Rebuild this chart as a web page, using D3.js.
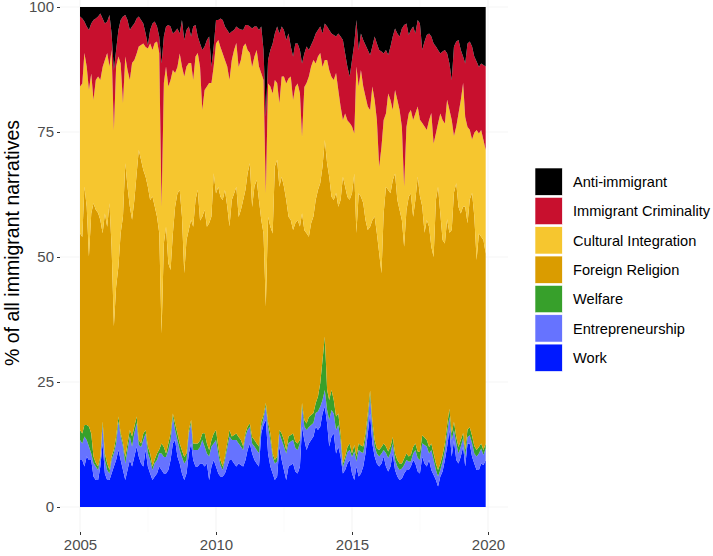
<!DOCTYPE html>
<html>
<head>
<meta charset="utf-8">
<script src="https://d3js.org/d3.v7.min.js"></script>
<style>
  body { margin: 0; background: #fff; }
  svg { font-family: "Liberation Sans", Arial, Helvetica, sans-serif; display: block; }
</style>
</head>
<body>
<div class="Chart"></div>
<script>
// monthly shares (%), Jan 2005 .. Dec 2019, one row per year
const work = [
  9.4, 9.4, 8.1, 10.1, 9.4, 9.4, 6.1, 5.4, 5.4, 8.1, 12.7, 6.7,
  5.4, 5.4, 6.7, 8.1, 9.4, 11.4, 9.4, 7.4, 5.4, 7.4, 9.4, 8.1,
  10.1, 12.1, 10.1, 8.7, 8.1, 11.4, 8.1, 6.7, 5.4, 6.1, 6.7, 8.1,
  7.4, 6.7, 6.7, 7.4, 9.4, 12.7, 13.4, 10.1, 8.7, 6.7, 5.4, 6.7,
  10.7, 12.7, 9.4, 8.1, 8.1, 8.7, 8.7, 8.1, 8.7, 5.4, 8.1, 9.4,
  8.1, 6.7, 6.1, 6.1, 6.7, 8.1, 9.4, 9.4, 8.7, 8.1, 8.7, 8.4,
  8.1, 9.4, 11.4, 12.7, 10.7, 9.4, 8.7, 8.1, 14.7, 16.4, 17.4, 10.7,
  8.1, 6.7, 5.4, 6.1, 12.1, 9.4, 7.4, 5.4, 8.1, 8.4, 8.7, 7.1,
  6.7, 8.1, 16.1, 13.4, 11.4, 12.7, 13.4, 14.1, 16.1, 15.4, 16.1, 18.7,
  20.1, 16.7, 12.1, 14.1, 14.7, 10.7, 12.1, 10.1, 6.7, 7.4, 8.7, 9.4,
  6.7, 5.4, 8.1, 6.1, 6.7, 8.1, 10.7, 14.7, 18.7, 12.7, 10.1, 8.7,
  8.1, 8.7, 10.1, 8.1, 7.1, 8.1, 10.7, 7.4, 6.1, 5.4, 5.7, 6.7,
  7.4, 7.4, 8.1, 9.4, 8.7, 7.1, 6.7, 10.1, 8.7, 8.1, 9.4, 7.4,
  6.4, 5.4, 4.1, 6.1, 7.1, 9.4, 12.1, 15.4, 10.1, 13.4, 9.4, 8.7,
  10.1, 12.1, 8.1, 12.7, 12.7, 10.1, 8.7, 7.4, 7.4, 8.7, 8.4, 9.4
]
const entrepreneurship = [
  4.0, 3.3, 6.0, 3.3, 2.7, 1.3, 2.7, 2.7, 2.0, 1.3, 3.7, 2.7,
  2.0, 1.3, 2.7, 2.7, 3.3, 5.7, 4.7, 4.7, 3.3, 4.0, 4.7, 4.0,
  4.7, 4.7, 2.3, 3.3, 5.3, 3.3, 2.7, 2.7, 2.0, 2.7, 2.7, 2.7,
  3.3, 3.3, 3.3, 4.0, 4.0, 5.3, 2.0, 3.3, 2.7, 3.3, 3.3, 2.7,
  4.0, 4.0, 2.0, 3.3, 3.3, 3.3, 4.7, 4.0, 2.0, 4.7, 4.0, 3.3,
  5.3, 4.0, 2.3, 1.3, 2.7, 3.7, 4.7, 4.0, 4.7, 5.3, 4.0, 3.7,
  3.3, 4.7, 4.0, 3.3, 2.0, 2.7, 2.7, 2.7, 1.3, 1.3, 2.7, 5.3,
  5.3, 3.3, 3.3, 3.0, 2.7, 4.0, 4.7, 5.3, 4.7, 4.7, 4.7, 4.7,
  4.7, 4.7, 4.0, 2.7, 4.0, 3.3, 3.0, 2.7, 2.7, 3.7, 4.0, 2.7,
  3.3, 2.7, 5.3, 5.3, 4.0, 4.7, 4.3, 3.3, 1.3, 2.0, 2.3, 2.0,
  3.3, 5.7, 1.0, 5.3, 4.3, 2.7, 2.7, 2.7, 3.3, 3.3, 2.0, 2.0,
  2.0, 2.0, 1.3, 2.7, 2.7, 2.7, 2.0, 2.0, 2.0, 2.0, 2.0, 1.7,
  2.0, 1.7, 1.0, 1.3, 2.7, 2.7, 2.7, 2.7, 3.7, 4.0, 1.3, 4.0,
  3.0, 2.0, 2.0, 1.3, 2.0, 2.0, 2.7, 2.7, 3.3, 2.0, 3.3, 2.0,
  2.0, 1.7, 2.0, 1.3, 1.7, 2.7, 2.0, 2.7, 3.3, 3.0, 2.0, 2.3
]
const welfare = [
  2.0, 2.0, 2.3, 3.0, 4.0, 4.0, 1.3, 0.7, 0.7, 0.7, 0.7, 1.3,
  1.3, 0.7, 0.7, 0.7, 1.3, 1.0, 0.7, 0.7, 1.3, 1.3, 1.3, 2.0,
  1.3, 1.3, 1.0, 0.7, 1.3, 0.7, 1.3, 1.3, 0.7, 0.7, 1.3, 0.7,
  2.0, 2.0, 0.7, 1.3, 1.3, 0.7, 1.3, 1.3, 1.3, 1.3, 1.3, 1.3,
  0.7, 0.7, 1.3, 1.3, 1.3, 1.3, 1.3, 2.7, 2.0, 1.3, 1.3, 2.0,
  2.0, 1.3, 1.0, 0.7, 0.7, 1.0, 1.3, 0.7, 1.0, 1.3, 1.3, 1.3,
  0.7, 0.7, 0.7, 0.7, 1.3, 1.3, 1.3, 1.3, 1.0, 0.7, 0.7, 1.0,
  1.3, 0.7, 0.7, 1.0, 0.7, 1.3, 1.3, 0.7, 1.3, 1.3, 1.3, 1.3,
  1.3, 0.7, 0.7, 1.3, 1.3, 2.0, 2.0, 2.0, 2.0, 3.0, 4.7, 8.0,
  10.7, 4.0, 4.0, 4.0, 2.7, 2.7, 2.3, 1.3, 0.7, 0.7, 1.0, 1.3,
  0.7, 1.3, 1.0, 1.3, 1.3, 1.3, 1.3, 1.3, 1.3, 1.3, 1.3, 1.0,
  1.3, 1.3, 1.3, 1.3, 1.3, 1.3, 1.3, 1.3, 1.3, 1.3, 1.0, 1.3,
  1.3, 1.0, 1.3, 1.3, 1.3, 1.3, 1.6, 1.6, 1.5, 1.3, 1.3, 1.3,
  1.3, 1.3, 1.3, 1.3, 1.3, 1.3, 1.6, 1.6, 1.3, 1.7, 1.3, 1.3,
  1.3, 1.0, 1.3, 1.5, 1.6, 1.5, 1.5, 1.3, 1.3, 1.0, 1.0, 1.0
]
const foreignReligion = [
  39.3, 39.3, 47.7, 43.7, 34.0, 44.0, 50.7, 50.7, 50.7, 47.3, 37.7, 48.0,
  47.3, 53.3, 42.0, 24.7, 30.0, 30.0, 40.0, 45.3, 58.7, 51.3, 44.7, 43.3,
  45.3, 48.7, 58.0, 56.7, 52.7, 50.7, 52.0, 50.7, 54.0, 50.7, 47.3, 43.3,
  22.0, 40.7, 45.3, 36.0, 32.7, 36.0, 43.3, 48.0, 50.7, 46.7, 36.7, 42.7,
  40.0, 40.0, 43.3, 48.7, 50.7, 44.0, 43.3, 44.7, 43.3, 45.3, 44.7, 52.0,
  47.3, 52.0, 52.7, 53.3, 53.3, 47.3, 40.7, 47.3, 48.3, 49.3, 44.0, 46.0,
  49.3, 48.7, 50.7, 52.0, 46.0, 50.7, 52.7, 49.3, 40.3, 36.3, 19.3, 41.0,
  41.3, 44.0, 58.7, 59.3, 48.7, 51.3, 50.7, 50.0, 44.0, 43.0, 40.7, 43.7,
  44.7, 42.7, 38.0, 38.0, 38.0, 36.0, 38.3, 39.3, 40.7, 41.3, 40.0, 38.7,
  39.3, 45.3, 44.7, 38.7, 40.0, 44.7, 41.3, 46.7, 57.3, 54.0, 50.0, 48.7,
  52.0, 54.3, 44.7, 50.0, 49.7, 48.7, 42.7, 36.7, 32.7, 40.0, 44.7, 43.0,
  39.3, 34.7, 46.0, 52.0, 52.3, 50.7, 51.3, 56.0, 52.0, 50.7, 48.7, 42.3,
  48.7, 52.0, 52.3, 46.0, 48.7, 55.0, 51.3, 46.0, 41.0, 44.0, 44.0, 39.3,
  39.3, 52.7, 56.7, 50.0, 43.0, 40.0, 41.3, 35.3, 40.7, 46.0, 50.7, 48.0,
  45.3, 45.3, 48.7, 41.3, 45.7, 48.7, 46.0, 38.0, 42.7, 41.3, 42.0, 38.0
]
const culturalIntegration = [
  29.3, 30.7, 26.7, 28.0, 33.3, 28.0, 20.7, 26.0, 27.3, 28.0, 33.3, 30.7,
  34.7, 27.3, 39.3, 39.3, 44.0, 42.0, 34.0, 22.7, 21.3, 23.3, 25.3, 31.3,
  28.0, 24.0, 20.7, 23.0, 25.3, 26.0, 27.7, 31.3, 29.3, 32.7, 35.0, 36.0,
  25.3, 32.0, 32.0, 35.3, 38.0, 32.7, 26.7, 25.3, 27.3, 30.0, 39.3, 34.7,
  33.3, 31.3, 29.3, 28.7, 27.3, 30.7, 21.3, 24.0, 28.0, 28.0, 26.7, 21.3,
  30.0, 29.3, 30.0, 29.3, 26.0, 28.0, 29.3, 28.0, 28.7, 28.7, 30.0, 30.0,
  30.7, 29.3, 24.7, 22.0, 28.0, 26.0, 26.0, 26.7, 29.3, 30.7, 22.7, 26.7,
  28.0, 28.0, 17.3, 15.3, 16.7, 20.0, 22.0, 23.3, 27.7, 28.7, 26.0, 27.3,
  27.3, 26.7, 15.3, 28.7, 30.0, 32.0, 31.3, 31.3, 27.3, 26.7, 26.0, 20.0,
  16.0, 20.7, 21.3, 24.0, 24.0, 24.0, 23.3, 18.7, 11.3, 14.7, 15.3, 15.3,
  13.3, 8.0, 33.3, 21.3, 25.3, 23.3, 24.7, 24.7, 23.3, 26.7, 23.3, 22.7,
  17.3, 25.3, 18.7, 14.7, 19.3, 18.7, 14.0, 16.7, 20.0, 20.0, 18.7, 12.0,
  16.7, 16.7, 16.7, 19.3, 17.3, 14.0, 15.3, 16.7, 21.3, 18.0, 21.3, 26.7,
  22.7, 13.3, 12.7, 20.0, 24.0, 24.0, 24.0, 24.7, 22.0, 11.3, 11.3, 18.7,
  22.7, 24.7, 18.0, 19.3, 14.0, 10.7, 16.7, 26.0, 20.0, 21.3, 20.0, 20.7
]
const immigrantCriminality = [
  14.0, 13.0, 6.3, 8.0, 12.0, 10.0, 16.0, 12.3, 12.0, 13.3, 9.7, 7.3,
  6.3, 10.3, 3.3, 12.0, 3.3, 5.3, 8.7, 17.3, 8.3, 10.0, 10.0, 7.3,
  7.3, 7.0, 6.0, 5.0, 4.0, 2.7, 0.7, 2.7, 5.3, 4.3, 3.0, 3.3,
  28.7, 9.3, 8.0, 12.3, 10.7, 7.3, 8.3, 7.7, 4.0, 9.3, 7.3, 7.3,
  7.3, 5.3, 10.7, 6.3, 3.3, 4.7, 12.0, 8.7, 9.3, 9.3, 3.3, 4.0,
  4.7, 4.0, 5.7, 6.7, 6.7, 7.3, 9.3, 5.7, 4.0, 3.3, 7.7, 6.1,
  3.3, 3.7, 5.0, 5.3, 7.7, 6.0, 4.7, 7.3, 9.3, 6.0, 15.3, 4.7,
  7.3, 10.0, 9.3, 11.3, 14.0, 10.0, 9.3, 8.7, 9.0, 6.0, 8.7, 8.7,
  8.0, 8.7, 14.7, 6.7, 7.3, 5.3, 4.3, 4.0, 6.0, 5.3, 5.3, 6.7,
  7.3, 6.7, 8.0, 8.7, 9.0, 7.3, 11.3, 14.0, 16.0, 12.0, 10.7, 9.3,
  13.3, 18.0, 9.3, 7.3, 7.3, 9.3, 10.3, 11.3, 11.0, 8.0, 12.7, 15.3,
  23.3, 19.0, 13.3, 12.7, 7.7, 10.7, 14.7, 12.3, 13.3, 14.7, 19.7, 32.3,
  20.7, 15.7, 16.0, 18.7, 16.0, 17.3, 19.3, 14.7, 17.0, 19.0, 17.3, 15.3,
  20.0, 17.3, 14.7, 12.0, 13.7, 14.7, 9.3, 9.3, 8.0, 18.0, 17.0, 14.7,
  10.0, 5.3, 10.7, 16.7, 17.7, 18.7, 15.3, 13.7, 13.3, 13.3, 15.0, 16.7
]
const antiImmigrant = [
  1.9, 2.3, 2.9, 3.9, 4.6, 3.3, 2.6, 2.3, 1.9, 1.3, 2.3, 3.3,
  2.9, 1.6, 5.3, 12.6, 8.6, 4.6, 2.6, 1.9, 1.6, 2.6, 4.6, 3.9,
  3.3, 2.3, 1.9, 2.6, 3.3, 5.3, 7.6, 4.6, 3.3, 2.9, 3.9, 5.9,
  11.3, 5.9, 3.9, 3.6, 3.9, 5.3, 4.9, 4.3, 5.3, 2.6, 6.6, 4.6,
  3.9, 5.9, 3.9, 3.6, 5.9, 7.3, 8.6, 7.9, 6.6, 5.9, 11.9, 7.9,
  2.6, 2.6, 2.3, 2.6, 3.9, 4.6, 5.3, 4.9, 4.6, 3.9, 4.3, 4.5,
  4.6, 3.6, 3.6, 3.9, 4.3, 3.9, 3.9, 4.6, 3.9, 8.6, 21.9, 10.6,
  8.6, 7.3, 5.3, 3.9, 5.3, 3.9, 4.6, 6.6, 5.3, 7.9, 9.9, 7.3,
  7.3, 8.6, 11.3, 9.3, 7.9, 8.6, 7.6, 6.6, 5.3, 4.6, 3.9, 5.3,
  3.3, 3.9, 4.6, 5.3, 5.6, 5.9, 5.3, 5.9, 6.6, 9.3, 12.0, 13.9,
  10.6, 7.3, 2.6, 8.6, 5.3, 6.6, 7.6, 8.6, 9.6, 7.9, 5.9, 7.3,
  8.6, 8.9, 9.3, 8.6, 9.6, 7.9, 5.9, 4.3, 5.3, 5.9, 4.3, 3.6,
  3.3, 5.6, 4.6, 3.9, 5.3, 2.6, 3.3, 8.6, 6.9, 5.6, 5.3, 5.9,
  7.3, 7.9, 8.6, 9.3, 8.9, 8.6, 9.3, 11.3, 14.6, 7.9, 6.9, 6.6,
  8.6, 9.9, 11.3, 7.3, 6.9, 7.9, 9.9, 10.9, 12.0, 11.3, 11.6, 11.9
]

// bottom to top
const categories = ['Work', 'Entrepreneurship', 'Welfare', 'Foreign Religion',
  'Cultural Integration', 'Immigrant Criminality', 'Anti-immigrant']
const series = [work, entrepreneurship, welfare, foreignReligion,
  culturalIntegration, immigrantCriminality, antiImmigrant]
const colors = ['#0019FF', '#6673FF', '#37A02B', '#DA9C00', '#F6C62F', '#C8102E', '#000000']

const yearTicks = [2005, 2010, 2015, 2020]
const minorYearTicks = [2007.5, 2012.5, 2017.5]
const pctTicks = [0, 25, 50, 75, 100]

const months = d3.timeMonth.range(new Date(2005, 0, 1), new Date(2020, 0, 1))
const data = months.map((d, i) => {
  const row = {date: d}
  categories.forEach((c, k) => row[c] = series[k][i])
  return row
})

const width = 713, height = 556
const panel = {left: 60, right: 508, bottom: 532}

const svg = d3.select('.Chart').append('svg')
  .attr('width', width)
  .attr('height', height)

const xScale = d3.scaleTime()
  .domain([new Date(2005, 0, 1), new Date(2020, 0, 1)])
  .range([80, 488])

// decimal years on the same axis, for the minor grid
const yearScale = d3.scaleLinear()
  .domain([2005, 2020])
  .range([80, 488])

const yScale = d3.scaleLinear()
  .domain([0, 1])
  .range([507, 7])

// very faint grid
const grid = svg.append('g')
grid.selectAll('.vminor').data(minorYearTicks).enter().append('line')
  .attr('x1', d => yearScale(d)).attr('x2', d => yearScale(d))
  .attr('y1', 0).attr('y2', panel.bottom)
  .attr('stroke', '#f8f8f8').attr('stroke-width', 0.6)
grid.selectAll('.vmajor').data(yearTicks).enter().append('line')
  .attr('x1', d => yearScale(d)).attr('x2', d => yearScale(d))
  .attr('y1', 0).attr('y2', panel.bottom)
  .attr('stroke', '#f3f3f3').attr('stroke-width', 1)
grid.selectAll('.hmajor').data(pctTicks).enter().append('line')
  .attr('x1', panel.left).attr('x2', panel.right)
  .attr('y1', d => yScale(d / 100)).attr('y2', d => yScale(d / 100))
  .attr('stroke', '#f5f5f5').attr('stroke-width', 1)

const stack = d3.stack()
  .keys(categories)
  .offset(d3.stackOffsetExpand)

const area = d3.area()
  .x(d => xScale(d.data.date))
  .y0(d => yScale(d[0]))
  .y1(d => yScale(d[1]))

svg.append('g')
  .selectAll('path')
  .data(stack(data))
  .enter()
  .append('path')
  .attr('d', area)
  .attr('fill', (d, i) => colors[i])

// axes
const yAxis = d3.axisLeft(yScale)
  .tickValues(pctTicks.map(d => d / 100))
  .tickFormat(d => Math.round(d * 100))
  .tickSize(3)
  .tickPadding(3)

const xAxis = d3.axisBottom(xScale)
  .tickValues(yearTicks.map(d => new Date(d, 0, 1)))
  .tickFormat(d3.timeFormat('%Y'))
  .tickSize(3)
  .tickPadding(4)

svg.append('g')
  .attr('class', 'y-axis')
  .attr('transform', `translate(${panel.left},0)`)
  .call(yAxis)

svg.append('g')
  .attr('class', 'x-axis')
  .attr('transform', `translate(0,${panel.bottom})`)
  .call(xAxis)

svg.selectAll('.domain').remove()
svg.selectAll('.tick line').attr('stroke', '#333333')
svg.selectAll('.tick text')
  .attr('fill', '#4d4d4d')
  .style('font-size', '15px')
  .style('font-family', '"Liberation Sans", Arial, sans-serif')

svg.append('text')
  .attr('class', 'y-title')
  .attr('transform', 'translate(19,243) rotate(-90)')
  .attr('text-anchor', 'middle')
  .style('font-size', '19.5px')
  .attr('fill', '#000')
  .text('% of all immigrant narratives')

// legend, top entry first
const legend = svg.append('g')
  .attr('transform', 'translate(535,168)')

const legendItems = categories.slice().reverse()
const legendColors = colors.slice().reverse()

legendItems.forEach((name, i) => {
  const g = legend.append('g').attr('transform', `translate(0,${i * 29.35})`)
  g.append('rect')
    .attr('width', 27.3)
    .attr('height', 27.3)
    .attr('fill', legendColors[i])
    .attr('stroke', '#ffffff')
    .attr('stroke-width', 0.6)
  g.append('text')
    .attr('x', 38)
    .attr('y', 13.9)
    .attr('dy', '0.35em')
    .style('font-size', '14.6px')
    .attr('fill', '#000')
    .text(name)
})
</script>
</body>
</html>
